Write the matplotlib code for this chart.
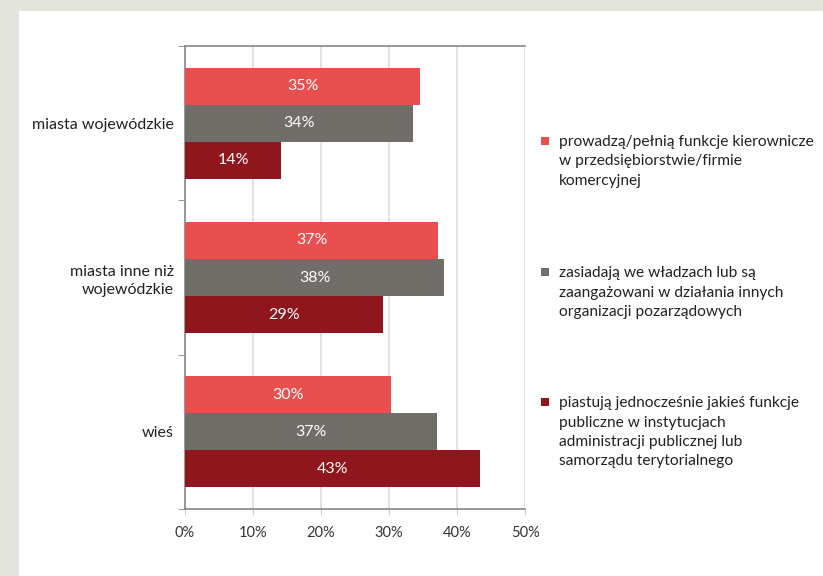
import numpy as np
import matplotlib
matplotlib.use("Agg")
import matplotlib.pyplot as plt
from matplotlib.patches import Rectangle

plt.rcParams['font.family'] = ['Lato', 'DejaVu Sans']

# data (percent)
categories = ["miasta wojewódzkie", "miasta inne niż\nwojewódzkie", "wieś"]
kierownicze = [34.6, 37.2, 30.3]
organizacje = [33.6, 38.1, 37.1]
publiczne = [14.1, 29.1, 43.4]
series = [kierownicze, organizacje, publiczne]
legend_labels = [
    "prowadzą/pełnią funkcje kierownicze\nw przedsiębiorstwie/firmie\nkomercyjnej",
    "zasiadają we władzach lub są\nzaangażowani w działania innych\norganizacji pozarządowych",
    "piastują jednocześnie jakieś funkcje\npubliczne w instytucjach\nadministracji publicznej lub\nsamorządu terytorialnego",
]
colors = ["#e8504f", "#716d68", "#8e161c"]
xticks = [0, 10, 20, 30, 40, 50]

fig = plt.figure(figsize=(8.23, 5.76), dpi=100)
fig.patch.set_facecolor("#e3e5dc")
fig.patches.append(Rectangle((19 / 823, 0), 1, 1 - 11 / 576, transform=fig.transFigure,
                             facecolor="white", edgecolor="none", zorder=-5))

ax = fig.add_axes([185 / 823, 67 / 576, 340 / 823, 463 / 576])
ax.set_facecolor("none")

h = 0.24
y = np.arange(len(categories))
for i, (vals, c) in enumerate(zip(series, colors)):
    pos = y - h + i * h
    ax.barh(pos, vals, height=h, color=c, zorder=3)
    for p, v in zip(pos, vals):
        ax.text(v / 2, p, f"{round(v)}%", ha="center", va="center",
                color="white", fontsize=11.5, zorder=4)

ax.set_xlim(0, 50)
ax.set_ylim(len(categories) - 0.5, -0.5)
ax.set_xticks(xticks)
ax.set_xticklabels([f"{t}%" for t in xticks], fontsize=10.5, color="#333333")
ax.set_yticks(y)
ax.set_yticklabels(categories, fontsize=11.5, color="#222222", linespacing=1.4)
ax.set_yticks(np.arange(-0.5, len(categories)), minor=True)
ax.tick_params(axis="y", which="major", length=0, pad=8)
ax.tick_params(axis="y", which="minor", length=5, color="#888888")
ax.tick_params(axis="x", length=4, color="#cccccc", pad=8)
ax.grid(axis="x", color="#dddddd", linewidth=1.2, zorder=0)
ax.spines["right"].set_visible(False)
for s in ["left", "top", "bottom"]:
    ax.spines[s].set_color("#888888")
    ax.spines[s].set_linewidth(1.2)

# legend drawn as text blocks
legend_y = [141, 272, 402]
for lab, c, ly in zip(legend_labels, colors, legend_y):
    fig.patches.append(Rectangle((541 / 823, 1 - (ly + 4) / 576), 8 / 823, 8 / 576,
                                 transform=fig.transFigure, facecolor=c,
                                 edgecolor="none"))
    fig.text(559 / 823, 1 - (ly - 6) / 576, lab, ha="left", va="top",
             fontsize=11.2, color="#222222", linespacing=1.5)

fig.savefig("out.png", dpi=100, facecolor=fig.get_facecolor())
